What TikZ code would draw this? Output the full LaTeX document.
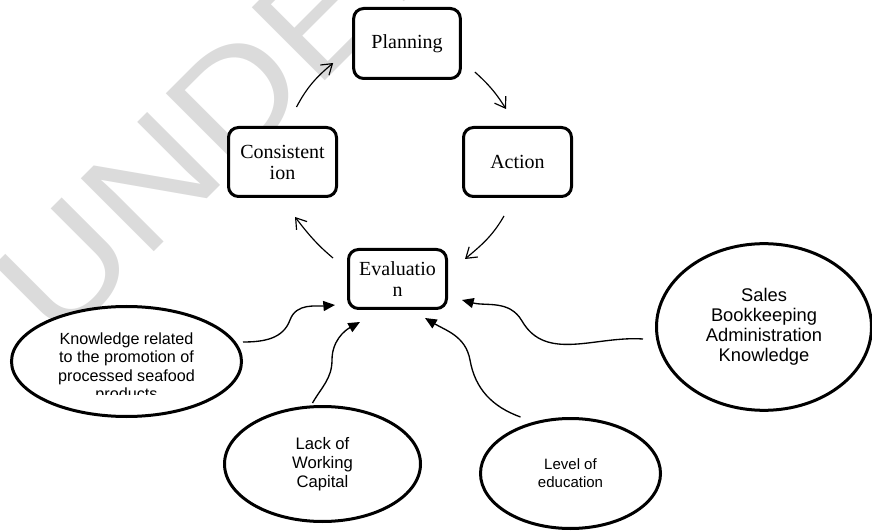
\documentclass[tikz,border=0pt]{standalone}
\usepackage{fontspec}
\setmainfont{Liberation Serif}
\setsansfont{Liberation Sans}
\usetikzlibrary{positioning,shapes.geometric,arrows.meta,calc}

\begin{document}
\begin{tikzpicture}[
    x=0.6pt, y=0.6pt,
    stage/.style={rectangle, draw, fill=white, rounded corners=6pt, line width=1.8pt, align=center, font=\fontsize{12}{12.6}\selectfont},
    factor/.style={ellipse, draw, fill=white, line width=1.8pt, align=center, inner sep=0pt},
    cyc/.style={-{Straight Barb[length=6pt,width=8pt]}, line width=0.7pt},
    feed/.style={-{Triangle[length=7pt,width=6pt]}, line width=0.8pt},
    wmark/.style={text=gray!28, inner sep=0pt, font=\sffamily\fontsize{90}{90}\selectfont}
]
\useasboundingbox (0,0) rectangle (872,-531);
\clip (0,0) rectangle (872,-531);

% Watermark
\node[wmark, rotate=45, xscale=1.12, anchor=base west] (wm) at (58,-348) {UNDER REVIEW};

% Cycle stages
\node[stage, minimum width=64pt, minimum height=42pt] (plan) at (407,-43.5) {Planning};
\node[stage, minimum width=64.8pt, minimum height=41.4pt] (act) at (517.5,-162) {Action};
\node[stage, minimum width=64.8pt, minimum height=41.4pt] (con) at (282.5,-162) {Consistent\\ion};
\node[stage, minimum width=58.8pt, minimum height=35.4pt] (ev) at (397.5,-279) {Evaluatio\\n};

% Influencing factors
\node[factor, minimum width=138pt, minimum height=66pt] (kn) at (126.5,-361.5) {};
\node[factor, minimum width=117.6pt, minimum height=69pt, font=\sffamily\fontsize{10}{11.4}\selectfont] (lack) at (322.5,-464) {Lack of\\Working\\Capital};
\node[factor, minimum width=108pt, minimum height=66pt, font=\sffamily\fontsize{9}{10.8}\selectfont] (lev) at (570.5,-473.5) {Level of\\education};
\node[factor, minimum width=129pt, minimum height=100pt, font=\sffamily\fontsize{11}{11.9}\selectfont] (sal) at (764,-327) {Sales\\Bookkeeping\\Administration\\Knowledge};

% text box of the first factor is cut off at the bottom
\begin{scope}
  \clip (0,-300) rectangle (260,-394);
  \node[align=center, inner sep=0pt, font=\sffamily\fontsize{9.7}{11.1}\selectfont] (kntext) at (126.5,-368) {Knowledge related\\to the promotion of\\processed seafood\\products};
\end{scope}

% Cycle arrows
\draw[cyc] ($(con.north)+(14,19)$) to[out=62,in=220] ($(plan.south west)+(-19,17)$);
\draw[cyc] ($(plan.east)+(13,-28.5)$) to[out=-42,in=122] ($(act.north)+(-11.5,17)$);
\draw[cyc] ($(act.south)+(-13.5,-18)$) to[out=-120,in=40] ($(ev.east)+(17,20)$);
\draw[cyc] ($(ev.north west)+(-14,-10)$) to[out=140,in=-52] ($(con.south)+(12.5,-19)$);

% Factor arrows
\draw[feed] ($(kn.east)+(0,19.5)$) to[out=0,in=-110] (290,-320) to[out=70,in=185] ($(ev.south west)+(-12,5)$);
\draw[feed] ($(lack.north)+(-10,2)$) to[out=60,in=-90] (332,-360) to[out=90,in=209] ($(ev.south)+(-37.5,-12)$);
\draw[feed] ($(lev.north)+(-50,0)$) to[out=160,in=-80] (470,-360) to[out=100,in=-31] ($(ev.south east)+(-23,-8)$);
\draw[feed] ($(sal.west)+(-12,-12)$) to[out=176,in=-60] (522,-321) to[out=120,in=-15] ($(ev.east)+(14,-21)$);
\end{tikzpicture}
\end{document}
